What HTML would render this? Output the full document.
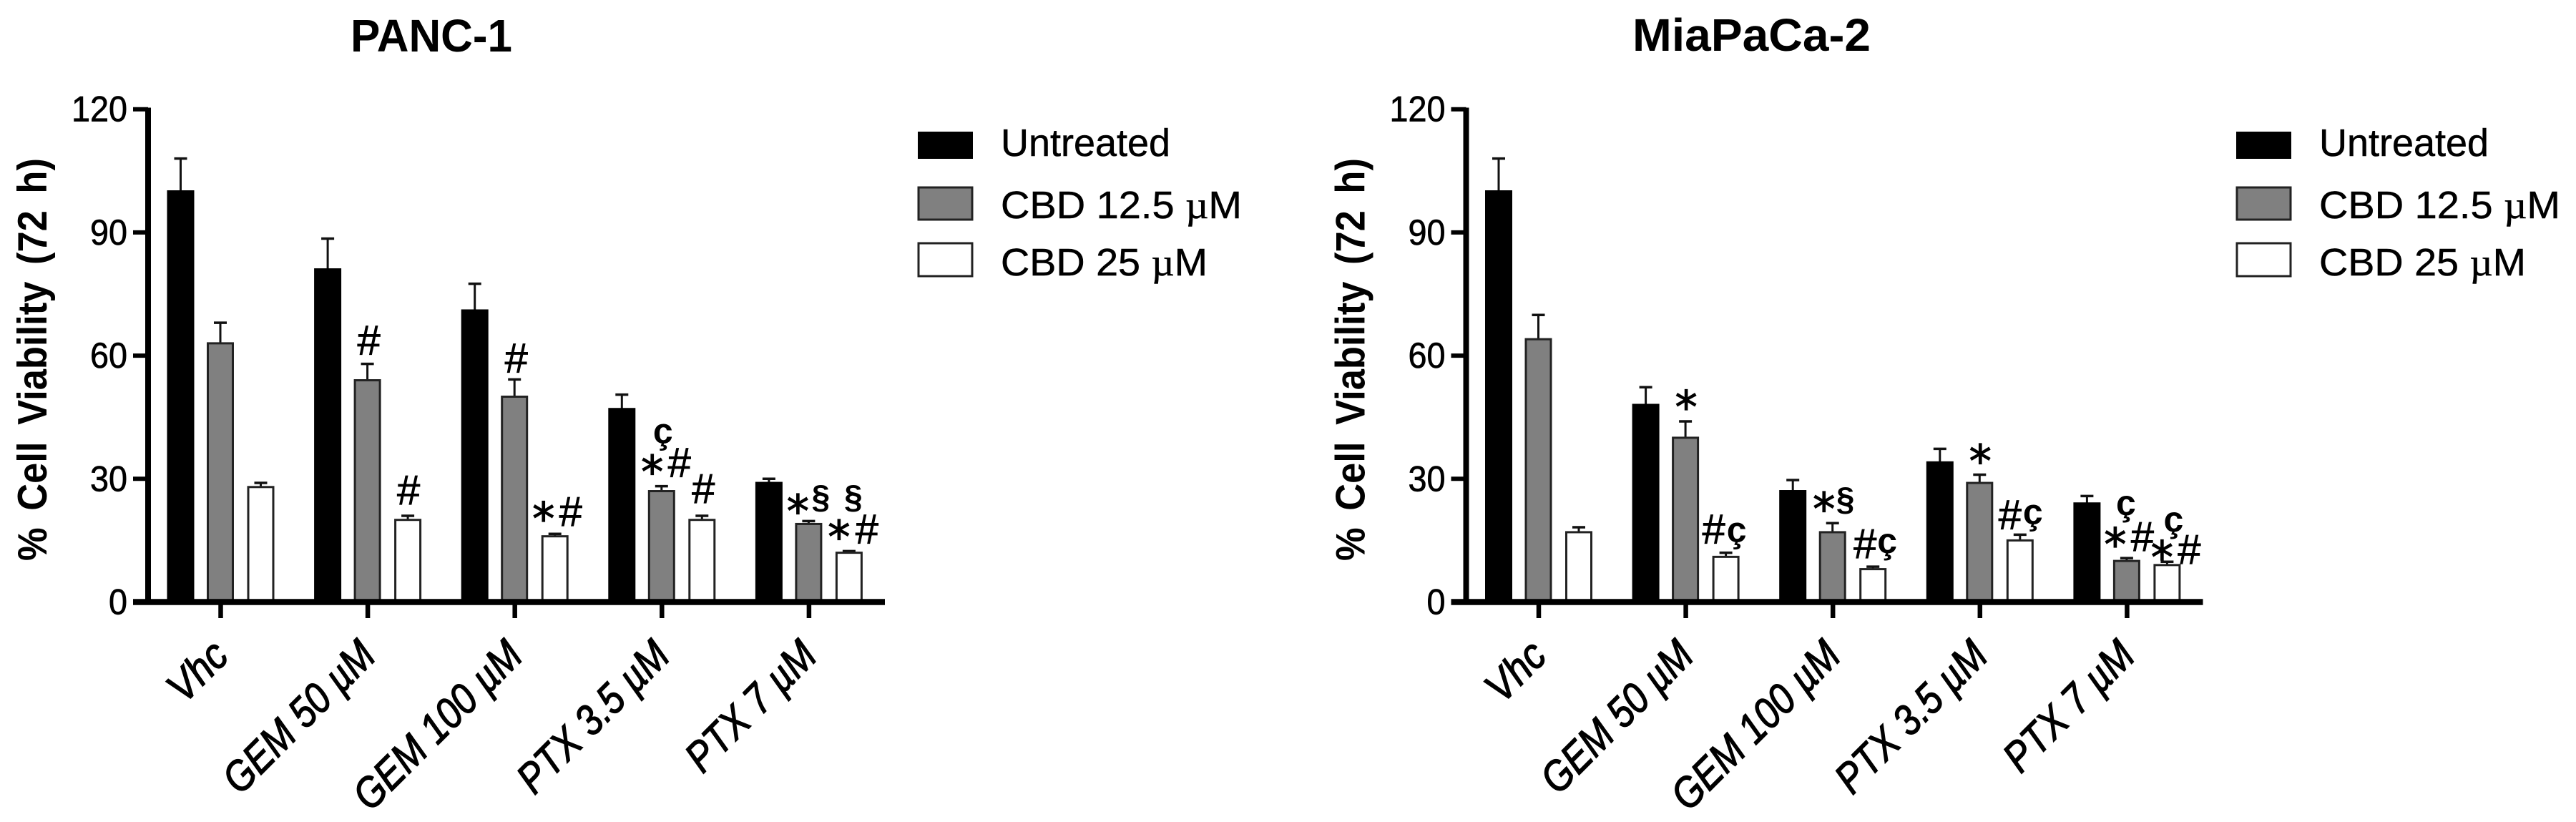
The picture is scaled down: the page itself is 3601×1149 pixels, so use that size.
<!DOCTYPE html>
<html>
<head>
<meta charset="utf-8">
<title>Cell viability charts</title>
<style>
html,body{margin:0;padding:0;background:#fff;}
svg{display:block;font-family:"Liberation Sans",sans-serif;}
</style>
</head>
<body>
<svg id="figure" xmlns="http://www.w3.org/2000/svg" width="3601" height="1149" viewBox="0 0 3601 1149">
  <rect x="0" y="0" width="3601" height="1149" fill="#fff"/>
  <text x="490" y="72" font-size="64" font-weight="700" textLength="226" lengthAdjust="spacingAndGlyphs">PANC-1</text>
  <text x="2282" y="71" font-size="64" font-weight="700" textLength="333" lengthAdjust="spacingAndGlyphs">MiaPaCa-2</text>

  <g>
    <rect x="1284" y="185" width="75" height="36" fill="#000" stroke="#000" stroke-width="2"/>
    <text x="1399" y="218" font-size="54" stroke="#000" stroke-width="0.5" textLength="237" lengthAdjust="spacingAndGlyphs">Untreated</text>
    <rect x="1284" y="262" width="75" height="45" fill="#808080" stroke="#222" stroke-width="3"/>
    <text x="1399" y="305" font-size="54" stroke="#000" stroke-width="0.5" textLength="337" lengthAdjust="spacingAndGlyphs">CBD 12.5 <tspan font-family="'Liberation Serif',serif">µ</tspan>M</text>
    <rect x="1284" y="340" width="75" height="46" fill="#fff" stroke="#222" stroke-width="3"/>
    <text x="1399" y="385" font-size="54" stroke="#000" stroke-width="0.5" textLength="289" lengthAdjust="spacingAndGlyphs">CBD 25 <tspan font-family="'Liberation Serif',serif">µ</tspan>M</text>
  </g>
  <g transform="translate(1843,0)">
    <rect x="1284" y="185" width="75" height="36" fill="#000" stroke="#000" stroke-width="2"/>
    <text x="1399" y="218" font-size="54" stroke="#000" stroke-width="0.5" textLength="237" lengthAdjust="spacingAndGlyphs">Untreated</text>
    <rect x="1284" y="262" width="75" height="45" fill="#808080" stroke="#222" stroke-width="3"/>
    <text x="1399" y="305" font-size="54" stroke="#000" stroke-width="0.5" textLength="337" lengthAdjust="spacingAndGlyphs">CBD 12.5 <tspan font-family="'Liberation Serif',serif">µ</tspan>M</text>
    <rect x="1284" y="340" width="75" height="46" fill="#fff" stroke="#222" stroke-width="3"/>
    <text x="1399" y="385" font-size="54" stroke="#000" stroke-width="0.5" textLength="289" lengthAdjust="spacingAndGlyphs">CBD 25 <tspan font-family="'Liberation Serif',serif">µ</tspan>M</text>
  </g>
</svg>
<script>
const categories = ['Vhc', 'GEM 50 µM', 'GEM 100 µM', 'PTX 3.5 µM', 'PTX 7 µM'];
const yTicks = [0, 30, 60, 90, 120];
const seriesNames = ['untreated', 'cbd-12-5', 'cbd-25'];

const pancUntreated = [100, 81, 71, 47, 29];
const pancCbd125 = [63, 54, 50, 27, 19];
const pancCbd25 = [28, 20, 16, 20, 12];
const pancUntreatedErr = [8, 7.5, 6.5, 3.5, 1];
const pancCbd125Err = [5, 4, 4.2, 1.2, 0.7];
const pancCbd25Err = [1, 1, 0.6, 1, 0.4];

const miaUntreated = [100, 48, 27, 34, 24];
const miaCbd125 = [64, 40, 17, 29, 10];
const miaCbd25 = [17, 11, 8, 15, 9];
const miaUntreatedErr = [8, 4.3, 2.7, 3.3, 1.8];
const miaCbd125Err = [5.9, 4, 2.2, 2, 0.7];
const miaCbd25Err = [1.2, 1, 0.6, 1.4, 0.8];

/* significance marks: group, series, symbol, then offset from that bar's centre / error cap */
const pancNotes = [
  [1,1,'#',2,13],[1,2,'#',1,16],
  [2,1,'#',2.5,10],[2,2,'*',-16,-1],[2,2,'#',22,11],
  [3,1,'ç',2,60],[3,1,'*',-13,-2],[3,1,'#',25,13],[3,2,'#',2,18],
  [4,1,'*',-15,-8],[4,1,'§',17,18],[4,2,'§',6,60],[4,2,'*',-14,-2],[4,2,'#',25,11]
];
const miaNotes = [
  [1,1,'*',1,-2],[1,2,'#',-17,13],[1,2,'ç',15,15],
  [2,1,'*',-12,-2],[2,1,'§',18,18],[2,2,'#',-11,12],[2,2,'ç',20,19],
  [3,1,'*',1,-3],[3,2,'#',-14,8],[3,2,'ç',18,15],
  [4,1,'ç',-1,60],[4,1,'*',-16,-3],[4,1,'#',22,10],[4,2,'ç',9,42],[4,2,'*',-7,-16],[4,2,'#',31,-3]
];

const NS = 'http://www.w3.org/2000/svg';
const figure = document.getElementById('figure');
const yBase = 841.5;
const pxPerUnit = 5.74;
const barWidth = 35;
const fills = ['#000', '#808080', '#fff'];
const strokes = ['#000', '#222', '#222'];
const seriesOffset = [-56, -0.5, 56];
const labelLengths = [92, 272, 305, 272, 230];

function yScale(v) { return yBase - v * pxPerUnit; }
function groupX(i) { return 308.5 + 205.6 * i; }
function barX(g, s) { return groupX(g) + seriesOffset[s]; }

function make(parent, tag, attrs, text) {
  const el = document.createElementNS(NS, tag);
  for (const k in attrs) el.setAttribute(k, attrs[k]);
  if (text !== undefined) el.textContent = text;
  parent.appendChild(el);
  return el;
}

function drawChart(name, dx, values, errors, notes) {
  const root = make(figure, 'g', { transform: 'translate(' + dx + ',0)' });
  
  

  const title = make(root, 'text', {
    transform: 'translate(65,784) rotate(-90) scale(1,1.1)',
    'font-size': 52.5, 'font-weight': 700, 'word-spacing': '9px'
  }, '% Cell Viability (72 h)');
  
  

  values.forEach(function (series, s) {
    series.forEach(function (v, g) {
      const cx = barX(g, s);
      const top = yScale(v);
      const capY = yScale(v + errors[s][g]);
      const stem = make(root, 'line', { x1: cx, x2: cx, y1: capY, y2: top, stroke: '#111', 'stroke-width': 3 });
      
      
      const cap = make(root, 'line', { x1: cx - 9, x2: cx + 9, y1: capY, y2: capY, stroke: '#111', 'stroke-width': 3.5 });
      
      
      const bar = make(root, 'rect', {
        x: cx - barWidth / 2, y: top, width: barWidth, height: yBase - top,
        fill: fills[s], stroke: strokes[s], 'stroke-width': 3
      });
      
      
    });
  });

  const yAxis = make(root, 'line', { x1: 207, x2: 207, y1: 150.5, y2: 845, stroke: '#000', 'stroke-width': 8 });
  
  
  const xAxis = make(root, 'line', { x1: 186, x2: 1237, y1: yBase, y2: yBase, stroke: '#000', 'stroke-width': 8.5 });
  
  

  yTicks.forEach(function (t) {
    const y = yScale(t);
    const tick = make(root, 'line', { x1: 186, x2: 207, y1: y, y2: y, stroke: '#000', 'stroke-width': 6 });
    
    
    const str = String(t);
    const label = make(root, 'text', {
      x: 178, y: y + 17, 'font-size': 50, 'text-anchor': 'end', stroke: '#000', 'stroke-width': 0.7,
      textLength: 26 * str.length, lengthAdjust: 'spacingAndGlyphs'
    }, str);
    
    
  });

  categories.forEach(function (c, i) {
    const x = groupX(i);
    const tick = make(root, 'line', { x1: x, x2: x, y1: yBase, y2: 864, stroke: '#000', 'stroke-width': 6.5 });
    
    
    const label = make(root, 'text', {
      transform: 'translate(' + (x + 14) + ',920) rotate(-45) scale(1,1.15)',
      'font-size': 52, 'text-anchor': 'end', 'font-style': 'italic', stroke: '#000', 'stroke-width': 1.2,
      textLength: labelLengths[i], lengthAdjust: 'spacingAndGlyphs'
    }, c);
    
    
  });

  notes.forEach(function (n) {
    const g = n[0], s = n[1], sym = n[2];
    const capY = yScale(values[s][g] + errors[s][g]);
    const attrs = { x: barX(g, s) + n[3], y: capY - n[4], 'text-anchor': 'middle' };
    if (sym === '*') { attrs['font-family'] = "'DejaVu Sans',sans-serif"; attrs['font-size'] = 62; attrs.stroke = '#000'; attrs['stroke-width'] = 1.2; }
    else if (sym === '#') { attrs['font-size'] = 58; attrs.stroke = '#000'; attrs['stroke-width'] = 0.8; }
    else if (sym === '§') { attrs['font-size'] = 46; attrs['font-weight'] = 700; }
    else { attrs['font-size'] = 50; attrs['font-weight'] = 700; }
    const mark = make(root, 'text', attrs, sym);
    
    
  });
}

drawChart('panc-1', 0,
  [pancUntreated, pancCbd125, pancCbd25],
  [pancUntreatedErr, pancCbd125Err, pancCbd25Err], pancNotes);
drawChart('miapaca-2', 1842.5,
  [miaUntreated, miaCbd125, miaCbd25],
  [miaUntreatedErr, miaCbd125Err, miaCbd25Err], miaNotes);
</script>
</body>
</html>
